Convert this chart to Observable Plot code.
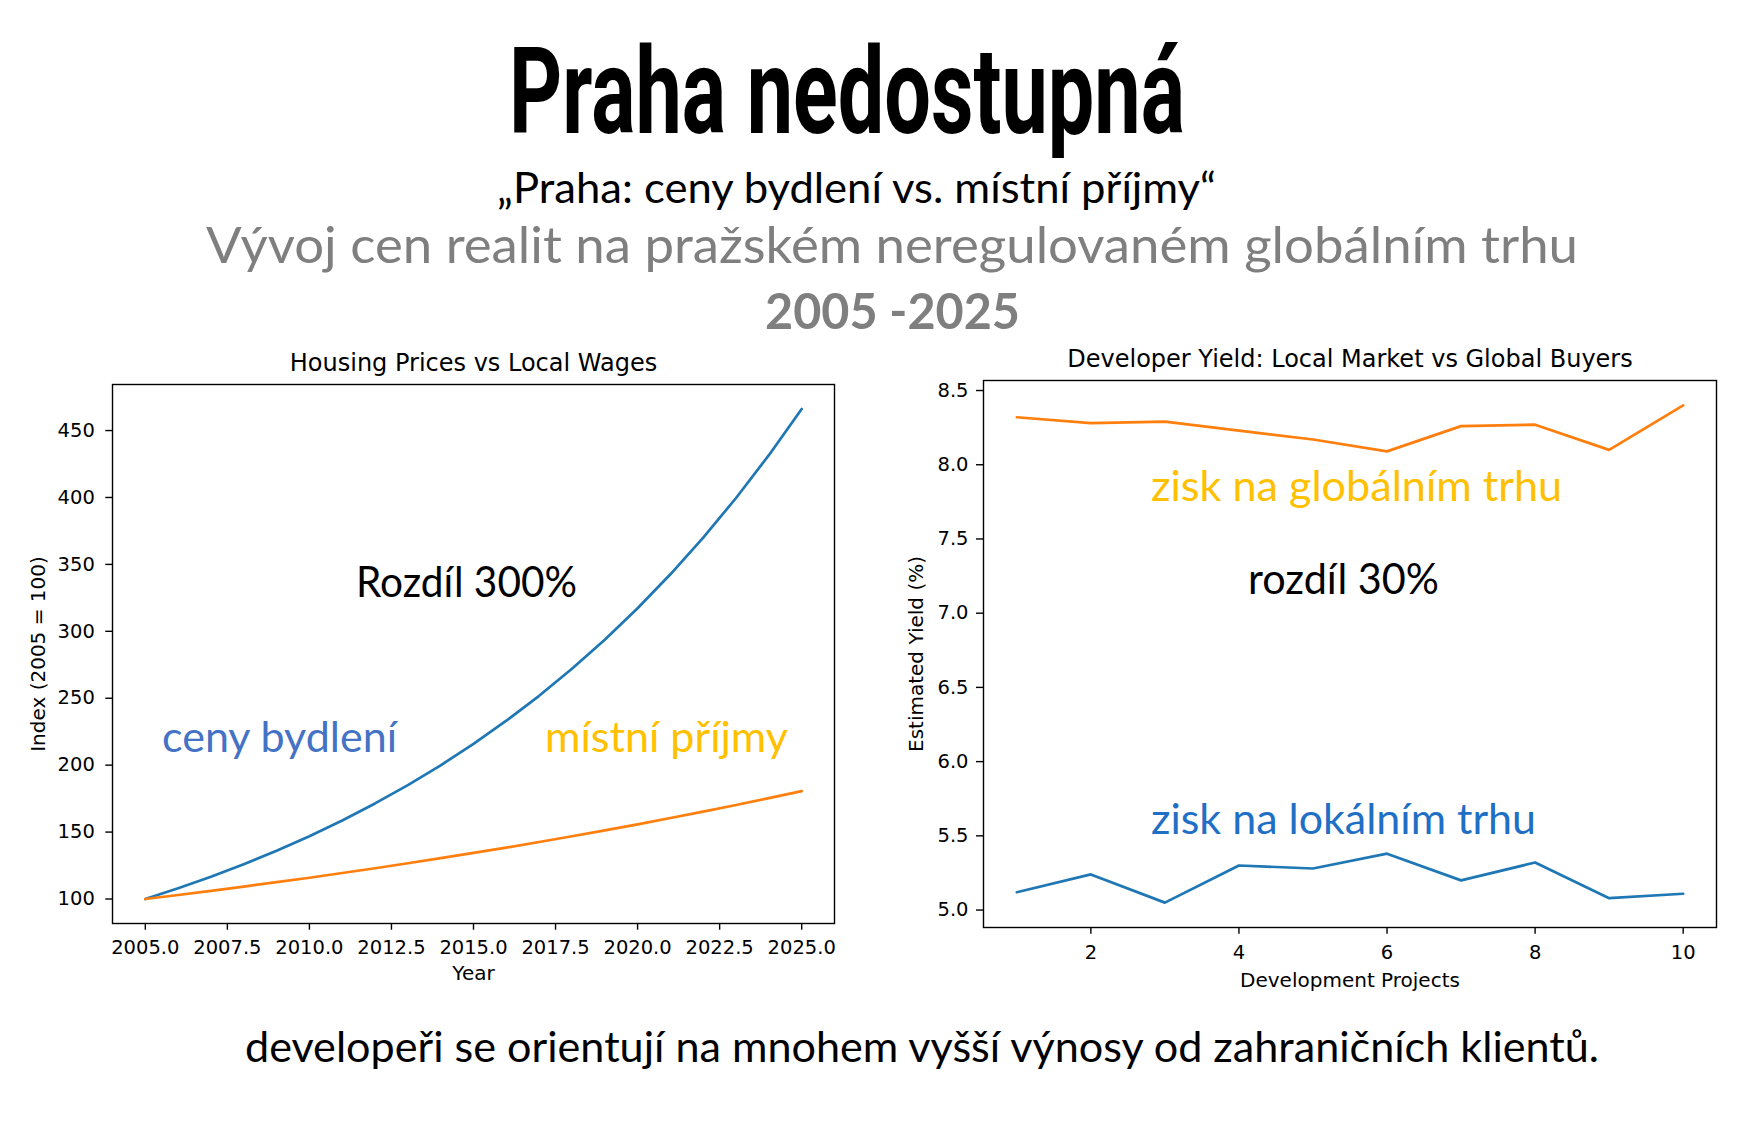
<!DOCTYPE html>
<html>
<head>
<meta charset="utf-8">
<script src="https://cdn.jsdelivr.net/npm/d3@7"></script>
<script src="https://cdn.jsdelivr.net/npm/@observablehq/plot@0.6"></script>
<style>
  body { margin: 0; background: #fff; }
  #page { position: relative; width: 1764px; height: 1146px; overflow: hidden; background: #fff; }
  #left, #right { position: absolute; }
  #left { left: 0px; top: 330px; }
  #right { left: 880px; top: 330px; }
  #overlay { position: absolute; left: 0; top: 0; pointer-events: none; }
</style>
</head>
<body>
<div id="page">
  <div id="left"></div>
  <div id="right"></div>
  <svg id="overlay" width="1764" height="1146"></svg>
</div>
<script>
// ---------- data ----------
const years = [2005, 2006, 2007, 2008, 2009, 2010, 2011, 2012, 2013, 2014, 2015, 2016, 2017, 2018, 2019, 2020, 2021, 2022, 2023, 2024, 2025];
const housingIndex = [100, 108, 116.6, 126, 136, 146.9, 158.7, 171.4, 185.1, 199.9, 215.9, 233.2, 251.8, 272, 293.7, 317.2, 342.6, 370, 399.6, 431.6, 466.1];
const wageIndex = [100, 103, 106.1, 109.3, 112.6, 115.9, 119.4, 123, 126.7, 130.5, 134.4, 138.4, 142.6, 146.9, 151.3, 155.8, 160.5, 165.3, 170.2, 175.4, 180.6];

const projects = [1, 2, 3, 4, 5, 6, 7, 8, 9, 10];
const globalYield = [8.32, 8.28, 8.29, 8.23, 8.17, 8.09, 8.26, 8.27, 8.10, 8.40];
const localYield = [5.12, 5.24, 5.05, 5.30, 5.28, 5.38, 5.20, 5.32, 5.08, 5.11];

const yearTicks = [2005, 2007.5, 2010, 2012.5, 2015, 2017.5, 2020, 2022.5, 2025];
const indexTicks = [100, 150, 200, 250, 300, 350, 400, 450];
const projectTicks = [2, 4, 6, 8, 10];
const yieldTicks = [5.0, 5.5, 6.0, 6.5, 7.0, 7.5, 8.0, 8.5];

const leftTitle = "Housing Prices vs Local Wages";
const leftXLabel = "Year";
const leftYLabel = "Index (2005 = 100)";
const rightTitle = "Developer Yield: Local Market vs Global Buyers";
const rightXLabel = "Development Projects";
const rightYLabel = "Estimated Yield (%)";

const pageTitle = "Praha nedostupná";
const subtitle1 = "„Praha: ceny bydlení vs. místní příjmy“";
const subtitle2 = "Vývoj cen realit na pražském neregulovaném globálním trhu";
const subtitle3 = "2005 -2025";
const caption = "developeři se orientují na mnohem vyšší výnosy od zahraničních klientů.";
const noteLeftDiff = "Rozdíl 300%";
const noteHousing = "ceny bydlení";
const noteWages = "místní příjmy";
const noteGlobal = "zisk na globálním trhu";
const noteRightDiff = "rozdíl 30%";
const noteLocal = "zisk na lokálním trhu";

// ---------- helpers ----------
function padded(vals) {
  const [a, b] = d3.extent(vals);
  const m = (b - a) * 0.05;
  return [a - m, b + m];
}
const mplBlue = "#1f77b4", mplOrange = "#ff7f0e";
const housingRows = years.map((y, i) => ({x: y, v: housingIndex[i]}));
const wageRows = years.map((y, i) => ({x: y, v: wageIndex[i]}));
const localRows = projects.map((p, i) => ({x: p, v: localYield[i]}));
const globalRows = projects.map((p, i) => ({x: p, v: globalYield[i]}));

const baseStyle = {fontFamily: "DejaVu Sans", fontSize: "19.5px", color: "black", background: "transparent", overflow: "visible"};

// ---------- left chart ----------
const leftPlot = Plot.plot({
  width: 880, height: 670,
  marginLeft: 112, marginRight: 46, marginTop: 54, marginBottom: 77,
  style: baseStyle,
  x: {domain: padded(years)},
  y: {domain: padded([...housingIndex, ...wageIndex])},
  marks: [
    Plot.line(housingRows, {x: "x", y: "v", stroke: mplBlue, strokeWidth: 2.7}),
    Plot.line(wageRows, {x: "x", y: "v", stroke: mplOrange, strokeWidth: 2.7}),
    Plot.frame({stroke: "black", strokeWidth: 1.4}),
    Plot.axisX(yearTicks, {tickFormat: d3.format(".1f"), tickSize: 6.7, tickPadding: 10, strokeWidth: 1.4, label: null}),
    Plot.axisY(indexTicks, {tickSize: 6.7, tickPadding: 11, strokeWidth: 1.4, label: null}),
    Plot.text([leftTitle], {frameAnchor: "top", dy: -21, fontSize: 24, lineAnchor: "middle", textAnchor: "middle", fill: "black"}),
    Plot.text([leftXLabel], {frameAnchor: "bottom", dy: 50, fontSize: 20, lineAnchor: "middle", textAnchor: "middle", fill: "black"}),
    Plot.text([leftYLabel], {frameAnchor: "left", dx: -74, rotate: -90, fontSize: 20, lineAnchor: "middle", textAnchor: "middle", fill: "black"})
  ]
});
document.getElementById("left").appendChild(leftPlot);

// ---------- right chart ----------
const rightPlot = Plot.plot({
  width: 884, height: 670,
  marginLeft: 103, marginRight: 48, marginTop: 50, marginBottom: 73,
  style: baseStyle,
  x: {domain: padded(projects)},
  y: {domain: padded([...localYield, ...globalYield])},
  marks: [
    Plot.line(localRows, {x: "x", y: "v", stroke: mplBlue, strokeWidth: 2.7}),
    Plot.line(globalRows, {x: "x", y: "v", stroke: mplOrange, strokeWidth: 2.7}),
    Plot.frame({stroke: "black", strokeWidth: 1.4}),
    Plot.axisX(projectTicks, {tickSize: 6.7, tickPadding: 11, strokeWidth: 1.4, label: null}),
    Plot.axisY(yieldTicks, {tickFormat: d3.format(".1f"), tickSize: 7, tickPadding: 8, strokeWidth: 1.4, label: null}),
    Plot.text([rightTitle], {frameAnchor: "top", dy: -21, fontSize: 24, lineAnchor: "middle", textAnchor: "middle", fill: "black"}),
    Plot.text([rightXLabel], {frameAnchor: "bottom", dy: 53, fontSize: 20, lineAnchor: "middle", textAnchor: "middle", fill: "black"}),
    Plot.text([rightYLabel], {frameAnchor: "left", dx: -67, rotate: -90, fontSize: 20, lineAnchor: "middle", textAnchor: "middle", fill: "black"})
  ]
});
document.getElementById("right").appendChild(rightPlot);

// ---------- slide text overlay ----------
const overlay = d3.select("#overlay");
function addText(str, x, y, w, size, opts = {}) {
  overlay.append("text")
    .attr("x", x).attr("y", y)
    .attr("textLength", w).attr("lengthAdjust", "spacingAndGlyphs")
    .attr("font-family", opts.family || "Lato")
    .attr("font-weight", opts.weight || 400)
    .attr("font-size", size)
    .attr("fill", opts.fill || "#000")
    .text(str);
}
addText(pageTitle, 509, 133, 676, 121, {family: "Roboto", weight: 700});
addText(subtitle1, 497, 203, 719, 42);
addText(subtitle2, 206, 263, 1372, 51, {fill: "#7f7f7f"});
addText(subtitle3, 765, 329, 255, 50, {weight: 700, fill: "#7f7f7f"});
addText(caption, 245, 1062, 1354, 42);

addText(noteLeftDiff, 356, 597, 221, 42);
addText(noteHousing, 162, 752, 235, 42, {fill: "#4472c4"});
addText(noteWages, 545, 752, 243, 42, {fill: "#ffc000"});
addText(noteGlobal, 1151, 501, 411, 42, {fill: "#ffc000"});
addText(noteRightDiff, 1248, 594, 191, 42);
addText(noteLocal, 1151, 834, 385, 42, {fill: "#1f6fc5"});
</script>
</body>
</html>
